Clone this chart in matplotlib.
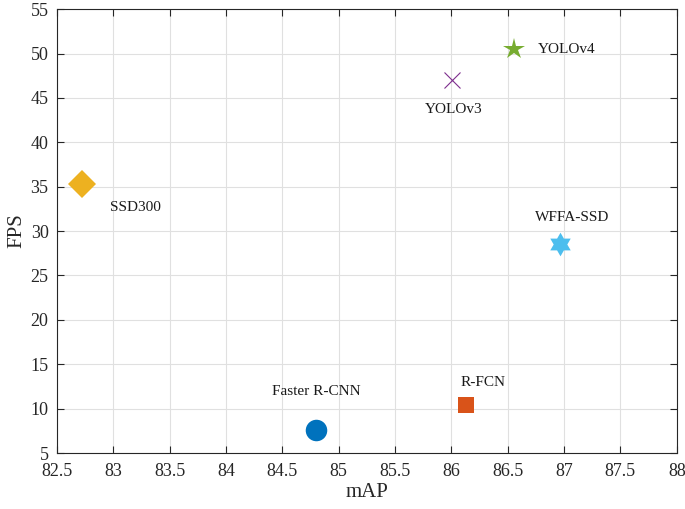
import matplotlib.pyplot as plt
import numpy as np

# detector results: mAP vs FPS
names = ['SSD300', 'Faster R-CNN', 'R-FCN', 'YOLOv3', 'YOLOv4', 'WFFA-SSD']
map_vals = [82.72, 84.80, 86.13, 86.01, 86.56, 86.96]
fps_vals = [35.3, 7.6, 10.4, 47.0, 50.5, 28.5]

# MATLAB-like hexagram marker shape (star of david)
ang = np.pi / 2 + np.arange(12) * np.pi / 6
rad = np.where(np.arange(12) % 2 == 0, 1.0, 1.0 / np.sqrt(3))
hexagram = np.column_stack([rad * np.cos(ang), rad * np.sin(ang)])

markers = ['D', 'o', 's', 'x', '*', hexagram]
colors = ['#EDB120', '#0072BD', '#D95319', '#7E2F8E', '#77AC30', '#4DBEEE']
sizes = [14, 15.5, 11, 12, 16, 17]

# label positions (data coords) and alignment
label_x = [82.97, 84.80, 86.08, 86.02, 86.77, 86.74]
label_y = [32.7, 11.9, 12.9, 43.7, 50.5, 31.5]
label_ha = ['left', 'center', 'left', 'center', 'left', 'left']

plt.rcParams['font.family'] = ['Liberation Serif', 'DejaVu Serif']

fig = plt.figure(figsize=(6.85, 5.09), dpi=100)
ax = fig.add_axes([0.083, 0.110, 0.905, 0.872])

for i in range(len(names)):
    if isinstance(markers[i], str) and markers[i] == 'x':
        ax.plot(map_vals[i], fps_vals[i], marker='x', color=colors[i],
                markersize=sizes[i], markeredgewidth=0.8, linestyle='none')
    else:
        ax.plot(map_vals[i], fps_vals[i], marker=markers[i], color=colors[i],
                markersize=sizes[i], markeredgewidth=0, linestyle='none')
    ax.text(label_x[i], label_y[i], names[i], fontsize=11, ha=label_ha[i],
            va='center', color='#1a1a1a')

ax.set_xlim(82.5, 88)
ax.set_ylim(5, 55)
ax.set_xticks(np.arange(82.5, 88.01, 0.5))
ax.set_xticklabels(['82.5', '83', '83.5', '84', '84.5', '85', '85.5', '86',
                    '86.5', '87', '87.5', '88'])
ax.set_yticks(np.arange(5, 56, 5))
ax.grid(True, color='#e0e0e0', linewidth=0.8)
ax.set_axisbelow(True)
ax.tick_params(direction='in', top=True, right=True, labelsize=13,
               colors='#262626', length=5, width=0.8)
ax.tick_params(axis='x', pad=7)
ax.tick_params(axis='y', pad=6)
for s in ax.spines.values():
    s.set_color('#262626')
    s.set_linewidth(0.8)
ax.set_xlabel('mAP', fontsize=15, color='#262626', labelpad=2)
ax.set_ylabel('FPS', fontsize=15, color='#262626', labelpad=3)

plt.savefig('out.png', dpi=100)
